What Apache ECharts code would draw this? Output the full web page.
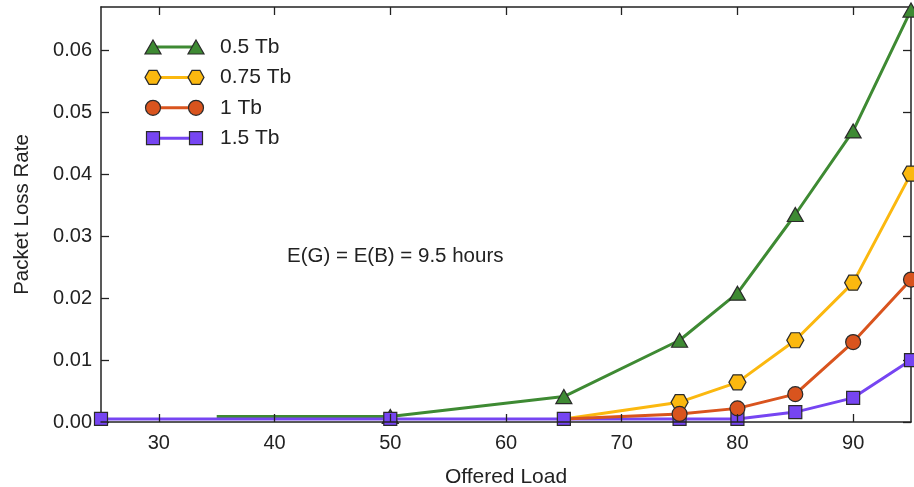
<!DOCTYPE html>
<html>
<head>
<meta charset="utf-8">
<script src="https://cdn.jsdelivr.net/npm/echarts@6/dist/echarts.min.js"></script>
<style>
  html, body { margin: 0; padding: 0; background: #fff; }
  #chart { width: 914px; height: 487px; }
</style>
</head>
<body>
<div id="chart"></div>
<script>
const xTicks = [30, 40, 50, 60, 70, 80, 90]
const yTicks = [0, 0.01, 0.02, 0.03, 0.04, 0.05, 0.06]

const load05 = [35, 50, 65, 75, 80, 85, 90, 95]
const tb05 = [0.0009, 0.0009, 0.0041, 0.0132, 0.0208, 0.0335, 0.047, 0.0665]

const load075 = [65, 75, 80, 85, 90, 95]
const tb075 = [0.0005, 0.0032, 0.0064, 0.0132, 0.0225, 0.0401]

const load1 = [65, 75, 80, 85, 90, 95]
const tb1 = [0.0005, 0.0013, 0.0022, 0.0045, 0.0129, 0.023]

const load15 = [25, 50, 65, 75, 80, 85, 90, 95]
const tb15 = [0.0005, 0.0005, 0.0005, 0.0005, 0.0005, 0.0016, 0.0039, 0.01]

const names = ["0.5 Tb", "0.75 Tb", "1 Tb", "1.5 Tb"]
const colors = ["#3e8a33", "#fbb80f", "#d9541e", "#7645f2"]

const font = "'Liberation Sans', Arial, sans-serif"
const textColor = "#222"
const axisColor = "#222"
const markerBorder = "#2a2a2a"
const hexagon = "path://M0,5 L2.9,0 L8.7,0 L11.6,5 L8.7,10 L2.9,10 Z"

const pairs = (xs, ys) => xs.map((x, i) => [x, ys[i]])

// points in the source drawn without a marker
function hideFirst(data) {
  data[0] = { value: data[0], symbolSize: 0 }
  return data
}

function lineSeries(name, data, color, symbol, size) {
  return {
    name,
    type: "line",
    data,
    symbol,
    symbolSize: size,
    showAllSymbol: true,
    lineStyle: { color, width: 3 },
    itemStyle: { color, borderColor: markerBorder, borderWidth: 1.2 },
    emphasis: { disabled: true },
    animation: false
  }
}

// legend drawn by hand: a line with a marker at each end, like the source
function markerShape(kind, cx, cy, color) {
  const style = { fill: color, stroke: markerBorder, lineWidth: 1.2 }
  if (kind === "triangle") {
    return { type: "polygon", shape: { points: [[cx, cy - 7], [cx + 8, cy + 7], [cx - 8, cy + 7]] }, style }
  }
  if (kind === "hexagon") {
    return {
      type: "polygon",
      shape: { points: [[cx - 8, cy], [cx - 4, cy - 7], [cx + 4, cy - 7], [cx + 8, cy], [cx + 4, cy + 7], [cx - 4, cy + 7]] },
      style
    }
  }
  if (kind === "circle") {
    return { type: "circle", shape: { cx, cy, r: 7.5 }, style }
  }
  return { type: "rect", shape: { x: cx - 6.5, y: cy - 6.5, width: 13, height: 13 }, style }
}

const legendKinds = ["triangle", "hexagon", "circle", "rect"]
const legendGraphics = []
names.forEach((name, i) => {
  const cy = 47 + i * 30.4
  legendGraphics.push({ type: "line", shape: { x1: 153, y1: cy, x2: 196, y2: cy }, style: { stroke: colors[i], lineWidth: 3 } })
  legendGraphics.push(markerShape(legendKinds[i], 153, cy, colors[i]))
  legendGraphics.push(markerShape(legendKinds[i], 196, cy, colors[i]))
  legendGraphics.push({
    type: "text",
    x: 220,
    y: cy,
    style: { text: name, font: "21px " + font, fill: textColor, verticalAlign: "middle" }
  })
})

const chart = echarts.init(document.getElementById("chart"))

const tickStyle = { show: true, inside: true, length: 8, lineStyle: { color: axisColor, width: 1.3 } }
const frameLine = { show: true, onZero: false, lineStyle: { color: axisColor, width: 1.5 } }

chart.setOption({
  backgroundColor: "#fff",
  grid: { left: 101, right: 3, top: 7, bottom: 65, outerBoundsMode: "none" },
  xAxis: [
    {
      type: "value",
      min: 25,
      max: 95,
      z: 5,
      name: "Offered Load",
      nameLocation: "middle",
      nameGap: 45,
      nameTextStyle: { fontFamily: font, fontSize: 21, color: textColor },
      axisLine: frameLine,
      axisTick: Object.assign({ customValues: xTicks }, tickStyle),
      axisLabel: { customValues: xTicks, fontFamily: font, fontSize: 20, color: textColor, margin: 11 },
      splitLine: { show: false }
    },
    {
      type: "value",
      position: "top",
      min: 25,
      max: 95,
      axisLine: frameLine,
      axisTick: Object.assign({ customValues: xTicks }, tickStyle),
      axisLabel: { show: false },
      splitLine: { show: false }
    }
  ],
  yAxis: [
    {
      type: "value",
      min: 0,
      max: 0.067,
      name: "Packet Loss Rate",
      nameLocation: "middle",
      nameGap: 68,
      nameTextStyle: { fontFamily: font, fontSize: 20.5, color: textColor },
      axisLine: frameLine,
      axisTick: Object.assign({ customValues: yTicks }, tickStyle),
      axisLabel: {
        customValues: yTicks,
        fontFamily: font,
        fontSize: 20,
        color: textColor,
        margin: 9,
        formatter: v => v.toFixed(2)
      },
      splitLine: { show: false }
    },
    {
      type: "value",
      position: "right",
      min: 0,
      max: 0.067,
      axisLine: frameLine,
      axisTick: Object.assign({ customValues: yTicks }, tickStyle),
      axisLabel: { show: false },
      splitLine: { show: false }
    }
  ],
  graphic: legendGraphics.concat([
    {
      type: "text",
      x: 287,
      y: 256,
      style: { text: "E(G) = E(B) = 9.5 hours", font: "20.5px " + font, fill: textColor, verticalAlign: "middle" }
    }
  ]),
  series: [
    lineSeries(names[0], hideFirst(pairs(load05, tb05)), colors[0], "triangle", [16, 14]),
    lineSeries(names[1], hideFirst(pairs(load075, tb075)), colors[1], hexagon, [17, 15]),
    lineSeries(names[3], pairs(load15, tb15), colors[3], "rect", 13),
    lineSeries(names[2], hideFirst(pairs(load1, tb1)), colors[2], "circle", 15)
  ]
})
</script>
</body>
</html>
